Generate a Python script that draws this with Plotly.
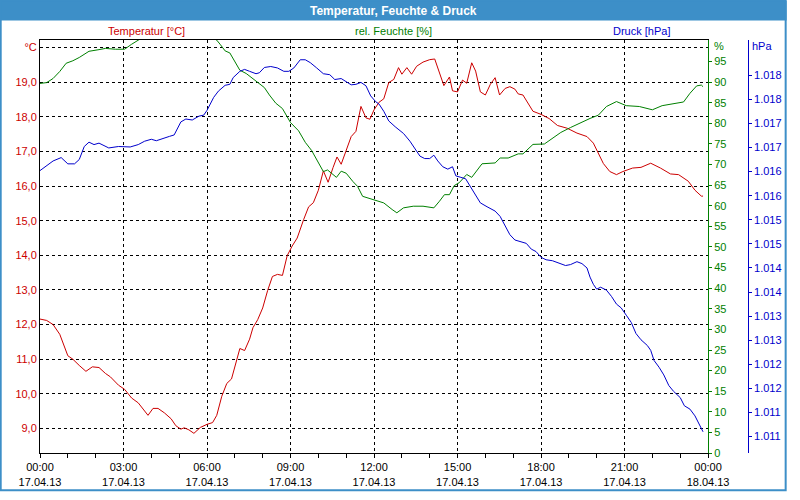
import pandas as pd
import plotly.graph_objects as go

BASE = pd.Timestamp("2013-04-17 00:00")

temp_hours = [0.0, 0.24, 0.47, 0.71, 1.0, 1.18, 1.41, 1.65, 1.88, 2.12, 2.35, 2.53, 2.82, 3.04, 3.29, 3.53,
              3.88, 4.06, 4.24, 4.47, 4.71, 4.88, 5.06, 5.18, 5.35, 5.53, 5.76, 6.0, 6.2, 6.35, 6.53, 6.71,
              6.88, 7.06, 7.18, 7.35, 7.53, 7.65, 7.82, 8.0, 8.18, 8.35, 8.53, 8.71, 8.88, 9.06, 9.24, 9.47,
              9.65, 9.82, 10.0, 10.18, 10.35, 10.53, 10.67, 10.82, 11.0, 11.18, 11.35, 11.53, 11.71, 11.85,
              12.0, 12.18, 12.35, 12.53, 12.71, 12.88, 13.0, 13.18, 13.35, 13.53, 13.76, 14.0, 14.18, 14.35,
              14.51, 14.71, 14.82, 15.0, 15.18, 15.33, 15.51, 15.65, 15.82, 16.0, 16.18, 16.35, 16.51, 16.71,
              16.88, 17.06, 17.18, 17.35, 17.53, 17.71, 18.0, 18.29, 18.59, 18.94, 19.29, 19.65, 19.88, 20.06,
              20.24, 20.47, 20.71, 20.94, 21.29, 21.59, 21.94, 22.29, 22.65, 22.94, 23.29, 23.53, 23.76, 23.82]
temp_values = [12.16, 12.12, 12.0, 11.72, 11.1, 11.0, 10.82, 10.65, 10.78, 10.76, 10.59, 10.49, 10.25, 10.13, 9.88, 9.74,
               9.38, 9.58, 9.58, 9.45, 9.28, 9.08, 8.98, 9.02, 8.96, 8.86, 9.03, 9.12, 9.17, 9.38, 9.93, 10.3,
               10.43, 11.01, 11.31, 11.25, 11.58, 11.91, 12.14, 12.48, 12.99, 13.39, 13.45, 13.42, 13.99, 14.27, 14.5, 15.03,
               15.4, 15.52, 15.88, 16.44, 16.11, 16.54, 16.84, 16.63, 17.05, 17.43, 17.58, 18.3, 17.97, 17.93,
               18.2, 18.42, 18.52, 18.99, 19.08, 19.42, 19.23, 19.42, 19.23, 19.46, 19.58, 19.65, 19.67, 19.27,
               18.9, 19.15, 18.75, 18.72, 19.06, 18.97, 19.56, 19.32, 18.72, 18.63, 18.94, 19.13, 18.63, 18.82,
               18.87, 18.8, 18.66, 18.63, 18.38, 18.16, 18.07, 17.95, 17.75, 17.67, 17.53, 17.43, 17.24, 16.96,
               16.65, 16.42, 16.33, 16.42, 16.52, 16.54, 16.66, 16.52, 16.35, 16.33, 16.14, 15.88, 15.71, 15.71]

hum_hours = [0.0, 0.24, 0.47, 0.71, 0.94, 1.18, 1.41, 1.76, 2.12, 2.35, 2.71, 3.04, 3.29, 3.53, 3.9, 4.5,
             5.2, 5.8, 6.2, 6.35, 6.47, 6.65, 6.82, 7.0, 7.18, 7.41, 7.65, 7.88, 8.06, 8.24, 8.47, 8.71,
             9.0, 9.29, 9.53, 9.76, 10.0, 10.18, 10.33, 10.47, 10.65, 10.82, 11.0, 11.24, 11.41, 11.59, 11.76,
             12.0, 12.35, 12.65, 12.82, 13.06, 13.41, 13.76, 14.15, 14.35, 14.53, 14.71, 14.88, 15.06, 15.33,
             15.51, 15.71, 15.88, 16.35, 16.53, 16.82, 17.18, 17.35, 17.71, 18.12, 18.41, 18.71, 19.06, 19.41,
             19.76, 20.06, 20.35, 20.71, 21.06, 21.53, 22.0, 22.35, 22.71, 23.12, 23.35, 23.59, 23.76, 23.82]
hum_values = [89.7, 89.9, 90.9, 92.6, 94.6, 95.2, 96.0, 97.5, 97.9, 98.2, 98.0, 98.0, 99.2, 100.2, 101.5, 102.5,
              102.8, 102.0, 100.8, 100.2, 99.2, 97.6, 97.1, 94.9, 92.9, 92.1, 90.9, 89.7, 88.7, 86.9, 84.9, 83.6,
              80.2, 78.2, 75.4, 73.4, 70.6, 68.3, 68.7, 67.9, 66.9, 68.4, 67.9, 65.9, 64.7, 62.3, 61.9,
              61.5, 60.7, 59.1, 58.3, 59.5, 59.9, 59.9, 59.5, 61.1, 62.7, 62.7, 64.9, 65.6, 67.6,
              66.9, 68.7, 70.2, 70.4, 71.6, 71.6, 72.6, 72.6, 74.9, 75.0, 76.4, 77.8, 79.0, 80.2,
              81.2, 82.0, 84.1, 85.3, 84.3, 84.1, 83.3, 84.3, 84.7, 85.2, 87.3, 89.1, 89.3, 88.9]

press_hours = [0.0, 0.24, 0.47, 0.76, 1.0, 1.24, 1.41, 1.59, 1.76, 1.94, 2.12, 2.47, 2.82, 3.24, 3.53, 3.76,
               4.0, 4.18, 4.41, 4.65, 4.82, 5.06, 5.24, 5.47, 5.71, 5.88, 6.0, 6.24, 6.41, 6.65, 6.82, 6.94,
               7.18, 7.35, 7.53, 7.76, 7.88, 8.06, 8.29, 8.53, 8.76, 8.94, 9.12, 9.35, 9.53, 9.71, 9.94, 10.18,
               10.41, 10.59, 10.82, 11.0, 11.18, 11.35, 11.53, 11.71, 11.88, 12.06, 12.18, 12.35, 12.53, 12.76,
               13.06, 13.29, 13.47, 13.65, 13.82, 14.0, 14.15, 14.29, 14.47, 14.65, 14.82, 14.94, 15.12, 15.29,
               15.47, 15.65, 15.82, 16.06, 16.35, 16.53, 16.71, 16.88, 17.06, 17.47, 17.65, 17.82, 18.0, 18.18,
               18.41, 18.65, 18.88, 19.06, 19.29, 19.47, 19.65, 19.76, 19.88, 20.0, 20.14, 20.35, 20.53, 20.71,
               20.88, 21.06, 21.24, 21.41, 21.59, 21.82, 21.94, 22.06, 22.24, 22.41, 22.59, 22.76, 23.0, 23.15,
               23.35, 23.53, 23.71, 23.82]
press_values = [1016.27, 1016.37, 1016.47, 1016.54, 1016.41, 1016.41, 1016.5, 1016.77, 1016.86, 1016.81, 1016.84,
                1016.74, 1016.77, 1016.76, 1016.81, 1016.88,
                1016.92, 1016.89, 1016.94, 1016.98, 1017.01, 1017.28, 1017.34, 1017.32, 1017.4, 1017.42, 1017.52,
                1017.79, 1017.92, 1018.04, 1018.06, 1018.2,
                1018.33, 1018.37, 1018.33, 1018.28, 1018.3, 1018.41, 1018.43, 1018.4, 1018.33, 1018.33, 1018.4,
                1018.57, 1018.57, 1018.51, 1018.4, 1018.28,
                1018.26, 1018.16, 1018.18, 1018.11, 1018.05, 1018.06, 1018.1, 1018.03, 1017.82, 1017.7, 1017.65,
                1017.5, 1017.3, 1017.18,
                1017.04, 1016.88, 1016.71, 1016.57, 1016.52, 1016.52, 1016.59, 1016.47, 1016.35, 1016.3, 1016.35,
                1016.16, 1016.13, 1016.1,
                1015.93, 1015.76, 1015.6, 1015.52, 1015.43, 1015.32, 1015.11, 1014.94, 1014.83, 1014.76, 1014.64,
                1014.59, 1014.47, 1014.42,
                1014.4, 1014.35, 1014.3, 1014.32, 1014.38, 1014.34, 1014.25, 1014.06, 1013.91, 1013.81, 1013.85,
                1013.79, 1013.66, 1013.5,
                1013.42, 1013.27, 1013.12, 1012.89, 1012.76, 1012.64, 1012.54, 1012.33, 1012.19, 1012.03, 1011.81,
                1011.69, 1011.56, 1011.39,
                1011.32, 1011.18, 1010.99, 1010.85]

temp_ticks = [9, 10, 11, 12, 13, 14, 15, 16, 17, 18, 19, 20]
temp_ticktext = [f"{v:.1f}".replace(".", ",") for v in temp_ticks[:-1]] + ["°C"]
hum_ticks = list(range(0, 100, 5))
press_ticks = [1010.75 + 0.5 * i for i in range(16)]
press_ticktext = [f"{round(v):,}".replace(",", ".") for v in press_ticks]

RED = "#cc0000"
GREEN = "#008000"
BLUE = "#0000cc"
FRAME = "#3d8fc8"
FONT = "Liberation Sans"

W, H = 800, 500
ML, MR, MT, MB = 40, 20, 40, 39
PW = W - ML - MR
PH = H - MT - MB


def px(x):
    return (x - ML) / PW


def py(y):
    return (H - MB - y) / PH


def times(hours):
    return [BASE + pd.Timedelta(hours=h) for h in hours]


fig = go.Figure()
fig.add_trace(go.Scatter(x=times(temp_hours), y=temp_values, mode="lines",
                         line=dict(color=RED, width=1), yaxis="y", name="Temperatur"))
fig.add_trace(go.Scatter(x=times(hum_hours), y=hum_values, mode="lines",
                         line=dict(color=GREEN, width=1), yaxis="y2", name="rel. Feuchte"))
fig.add_trace(go.Scatter(x=times(press_hours), y=press_values, mode="lines",
                         line=dict(color=BLUE, width=1), yaxis="y3", name="Druck"))

fig.update_layout(
    width=W, height=H,
    margin=dict(l=ML, r=MR, t=MT, b=MB, pad=0),
    paper_bgcolor="white", plot_bgcolor="white",
    showlegend=False,
    font=dict(family=FONT, size=11, color="black"),
    xaxis=dict(
        type="date", domain=[0, 680 / PW],
        range=[BASE, BASE + pd.Timedelta(hours=24)],
        tick0=BASE, dtick=3 * 3600 * 1000,
        tickformat="%H:%M<br>%d.%m.%y",
        ticks="outside", ticklen=4, tickcolor="black",
        showline=True, linecolor="black", linewidth=1, mirror=True,
        showgrid=True, gridcolor="black", gridwidth=1, griddash="3px,3px",
        minor=dict(dtick=3600 * 1000, ticks="outside", ticklen=4, tickcolor="black", showgrid=False),
        zeroline=False, tickfont=dict(color="black", size=11, family=FONT),
    ),
    yaxis=dict(
        range=[8.292, 20.218], tickvals=temp_ticks, ticktext=temp_ticktext,
        tickfont=dict(color=RED, size=11, family=FONT),
        showline=True, linecolor="black", linewidth=1,
        showgrid=True, gridcolor="black", gridwidth=1, griddash="3px,3px",
        zeroline=False, ticks="",
    ),
    yaxis2=dict(
        overlaying="y", side="right", anchor="x",
        range=[0, 100.24], tickvals=hum_ticks,
        tickfont=dict(color=GREEN, size=11, family=FONT),
        ticks="outside", ticklen=3, tickcolor=GREEN,
        showline=True, linecolor=GREEN, linewidth=1,
        showgrid=False, zeroline=False,
    ),
    yaxis3=dict(
        overlaying="y", side="right", anchor="free", position=px(760.5),
        range=[1010.41, 1018.98], tickvals=press_ticks, ticktext=press_ticktext,
        tickfont=dict(color=BLUE, size=11, family=FONT),
        ticks="outside", ticklen=3, tickcolor=BLUE,
        showline=True, linecolor=BLUE, linewidth=1,
        showgrid=False, zeroline=False,
    ),
)

shapes = [
    dict(type="rect", xref="paper", yref="paper", x0=px(0), x1=px(800), y0=py(20), y1=py(0),
         fillcolor=FRAME, line=dict(width=0), layer="below"),
    dict(type="rect", xref="paper", yref="paper", x0=px(0), x1=px(799), y0=py(499), y1=py(0),
         fillcolor="rgba(0,0,0,0)", line=dict(color=FRAME, width=2)),
]
fig.update_layout(shapes=shapes)

annots = [
    ("Temperatur, Feuchte &amp; Druck", 400, 10, "white", "center", 12, True),
    ("Temperatur [°C]", 148, 31, RED, "center", 11, False),
    ("rel. Feuchte [%]", 400, 31, GREEN, "center", 11, False),
    ("Druck [hPa]", 652, 31, BLUE, "center", 11, False),
    ("%", 724, 46, GREEN, "left", 11, False),
    ("hPa", 763, 46, BLUE, "left", 11, False),
]
for text, x, y, color, anchor, size, bold in annots:
    fig.add_annotation(
        text=f"<b>{text}</b>" if bold else text,
        xref="paper", yref="paper", x=px(x), y=py(y),
        xanchor=anchor, yanchor="middle", showarrow=False,
        font=dict(color=color, size=size, family=FONT),
    )

fig.write_html("out.html")
